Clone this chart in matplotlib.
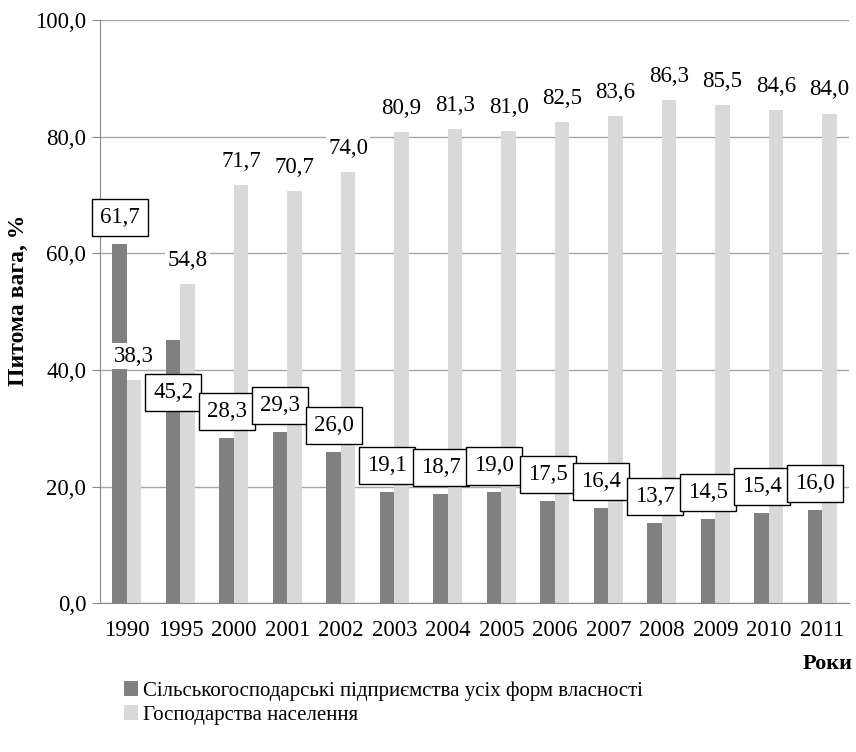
import numpy as np
import matplotlib.pyplot as plt
from matplotlib.ticker import FuncFormatter

plt.rcParams['font.family'] = ['Liberation Serif', 'DejaVu Serif']

years = ['1990', '1995', '2000', '2001', '2002', '2003', '2004', '2005',
         '2006', '2007', '2008', '2009', '2010', '2011']
enterprises = [61.7, 45.2, 28.3, 29.3, 26.0, 19.1, 18.7, 19.0, 17.5, 16.4, 13.7, 14.5, 15.4, 16.0]
households = [38.3, 54.8, 71.7, 70.7, 74.0, 80.9, 81.3, 81.0, 82.5, 83.6, 86.3, 85.5, 84.6, 84.0]

series_names = ['Сільськогосподарські підприємства усіх форм власності',
                'Господарства населення']

fig = plt.figure(figsize=(8.56, 7.52), dpi=100)
ax = fig.add_axes([0.117, 0.198, 0.875, 0.775])

x = np.arange(len(years))
w = 0.27
b1 = ax.bar(x - w / 2, enterprises, w, color='#808080', label=series_names[0], zorder=2)
b2 = ax.bar(x + w / 2, households, w, color='#d9d9d9', label=series_names[1], zorder=2)

fmt = lambda v: f'{v:.1f}'.replace('.', ',')

# light series: plain labels with white background
for xi, v in zip(x, households):
    ax.annotate(fmt(v), (xi + w / 2, v), xytext=(0, 17), textcoords='offset points',
                ha='center', va='center', fontsize=16.5, zorder=4,
                bbox=dict(boxstyle='square,pad=0.1', fc='white', ec='none'))

# dark series: boxed labels (1995 label sits lower, over the bar)
for i, (xi, v) in enumerate(zip(x, enterprises)):
    dy = -38 if i == 1 else 19
    ax.annotate(fmt(v), (xi - w / 2, v), xytext=(0, dy), textcoords='offset points',
                ha='center', va='center', fontsize=16.5, zorder=5,
                bbox=dict(boxstyle='square,pad=0.35', fc='white', ec='black', lw=1))

ax.set_xlim(-0.5, len(years) - 0.5)
ax.set_ylim(0, 100)
ax.set_yticks(np.arange(0, 101, 20))
ax.yaxis.set_major_formatter(FuncFormatter(lambda v, p: fmt(v)))
ax.set_xticks(x)
ax.set_xticklabels(years)
ax.tick_params(axis='x', length=0, pad=12, labelsize=16.5)
ax.tick_params(axis='y', length=6, color='#888888', labelsize=16.5, pad=4)
ax.grid(axis='y', color='#a6a6a6', lw=1, zorder=0)
for s in ['top', 'right']:
    ax.spines[s].set_visible(False)
for s in ['left', 'bottom']:
    ax.spines[s].set_color('#888888')

ax.set_ylabel('Питома вага, %', fontsize=17, fontweight='bold')
ax.yaxis.set_label_coords(-0.095, 0.52)
fig.text(0.996, 0.117, 'Роки', ha='right', va='center', fontsize=16, fontweight='bold')

fig.legend(handles=[b1, b2], loc='upper left', bbox_to_anchor=(0.135, 0.105),
           frameon=False, fontsize=15, handlelength=0.7, handleheight=0.7,
           handletextpad=0.2, labelspacing=0.2, borderaxespad=0)

fig.savefig('out.png', dpi=100)
